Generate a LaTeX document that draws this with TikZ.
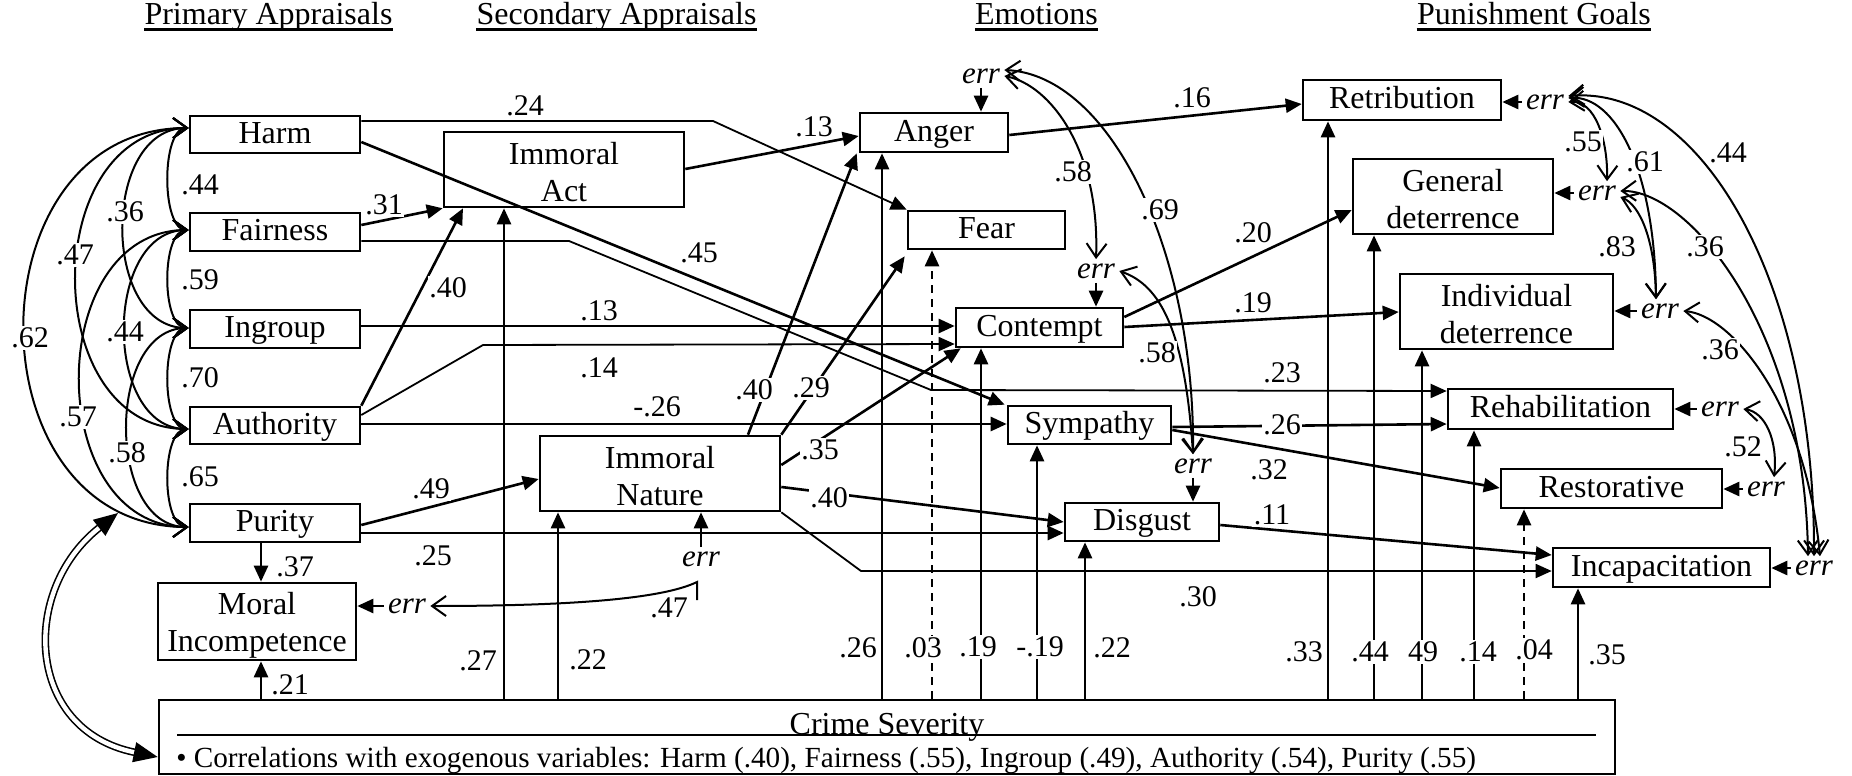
\documentclass[tikz,border=0pt]{standalone}
\usepackage{fontspec}
\setmainfont{Liberation Serif}
\usetikzlibrary{arrows.meta}
\begin{document}
\begin{tikzpicture}[x=0.5pt,y=-0.5pt,
  every node/.style={inner sep=0pt},
  box/.style={draw,line width=1.3pt,font=\fontsize{16}{18.5}\selectfont,text height=0.88em,text depth=0pt},
  box2/.style={draw,line width=1.3pt,font=\fontsize{16}{18.5}\selectfont,align=center},
  hdr/.style={font=\fontsize{16}{18}\selectfont,anchor=base},
  lab/.style={fill=white,inner sep=0.8pt,font=\fontsize{15}{18}\selectfont},
  err/.style={inner sep=2pt,font=\fontsize{15.5}{18}\selectfont\itshape},
  arr/.style={line width=1.3pt,-{Triangle[length=8pt,width=7pt]}},
  tarr/.style={line width=0.9pt,-{Triangle[length=8pt,width=7pt]}},
  cov/.style={line width=1pt,{Straight Barb[length=7pt,width=10pt]}-{Straight Barb[length=7pt,width=10pt]}},
  covs/.style={line width=1pt,{Straight Barb[length=7pt,width=10pt]}-},
]
\useasboundingbox (0,0) rectangle (1852,776);

% headers
\node[hdr] (h1) at (268.5,25) {Primary Appraisals};
\node[hdr] (h2) at (616.5,25) {Secondary Appraisals};
\node[hdr] (h3) at (1036.5,25) {Emotions};
\node[hdr] (h4) at (1534,25) {Punishment Goals};
\foreach \h in {h1,h2,h3,h4}{\draw[line width=1.5pt] (\h.west |- 0,29) -- (\h.east |- 0,29);}

% boxes
\node[box,minimum width=85pt,minimum height=18.5pt] (harm) at (275,134.5) {Harm};
\node[box,minimum width=85pt,minimum height=19pt] (fairness) at (275,232) {Fairness};
\node[box,minimum width=85pt,minimum height=19pt] (ingroup) at (275,329) {Ingroup};
\node[box,minimum width=85pt,minimum height=18.5pt] (authority) at (275,425.5) {Authority};
\node[box,minimum width=85pt,minimum height=19pt] (purity) at (275,523) {Purity};
\node[box2,minimum width=99pt,minimum height=38.5pt] (moral) at (257,621.5) {\rule{0pt}{15pt}Moral\\Incompetence};
\node[draw,line width=1.3pt,minimum width=728pt,minimum height=37pt] (crime) at (887,737) {};
\node[box2,minimum width=120pt,minimum height=37.5pt] (immact) at (564,169.5) {\rule{0pt}{13.5pt}Immoral\\Act};
\node[box2,minimum width=120pt,minimum height=37.5pt] (immnat) at (660,473.5) {\rule{0pt}{13.5pt}Immoral\\Nature};
\node[box,minimum width=74pt,minimum height=19.5pt] (anger) at (934,132.5) {Anger};
\node[box,minimum width=78.5pt,minimum height=19pt] (fear) at (986.5,230) {Fear};
\node[box,minimum width=83.5pt,minimum height=19.5pt] (contempt) at (1039.5,327.5) {Contempt};
\node[box,minimum width=81.5pt,minimum height=19pt] (sympathy) at (1089.5,425) {Sympathy};
\node[box,minimum width=77pt,minimum height=19pt] (disgust) at (1142,522) {Disgust};
\node[box,minimum width=99pt,minimum height=20pt] (retribution) at (1402,100) {Retribution};
\node[box2,minimum width=100pt,minimum height=37.5pt] (general) at (1453,196.5) {\rule{0pt}{13.5pt}General\\deterrence};
\node[box2,minimum width=106.5pt,minimum height=37.5pt] (individual) at (1506.5,311.5) {\rule{0pt}{13.5pt}Individual\\deterrence};
\node[box,minimum width=112.5pt,minimum height=20pt] (rehab) at (1560.5,409) {Rehabilitation};
\node[box,minimum width=110.5pt,minimum height=19.5pt] (restorative) at (1611.5,488.5) {Restorative};
\node[box,minimum width=108.5pt,minimum height=19.5pt] (incap) at (1661.5,567.5) {Incapacitation};

% crime severity texts
\node[font=\fontsize{16}{18}\selectfont,anchor=base] (crimet) at (887,734) {Crime Severity};
\draw[line width=1.3pt] (177,735) -- (1596,735);
\node[font=\fontsize{14.6}{18}\selectfont,anchor=base west] (corr) at (176,767) {\textbullet\ Correlations with exogenous variables: Harm (.40), Fairness (.55), Ingroup (.49), Authority (.54), Purity (.55)};

% err nodes
\node[err] (errA) at (981,76) {err};
\node[err] (errC) at (1096,271) {err};
\node[err] (errD) at (1193,466) {err};
\node[err] (errR) at (1545,102) {err};
\node[err] (errG) at (1597,193) {err};
\node[err] (errI) at (1660,311) {err};
\node[err] (errH) at (1720,409) {err};
\node[err] (errS) at (1766,489) {err};
\node[err] (errP) at (1814,568) {err};
\node[err] (errN) at (701,559) {err};
\node[err] (errM) at (407,606) {err};

% err arrows
\draw[arr] (errA.south) -- (errA.south |- anger.north);
\draw[arr] (errC.south) -- (errC.south |- contempt.north);
\draw[arr] (errD.south) -- (errD.south |- disgust.north);
\draw[arr] (errN.north) -- (errN.north |- immnat.south);
\draw[arr] (errM.west) -- (errM.west -| moral.east);
\draw[arr] (errR.west) -- (errR.west -| retribution.east);
\draw[arr] (errG.west) -- (errG.west -| general.east);
\draw[arr] (errI.west) -- (errI.west -| individual.east);
\draw[arr] (errH.west) -- (errH.west -| rehab.east);
\draw[arr] (errS.west) -- (errS.west -| restorative.east);
\draw[arr] (errP.west) -- (errP.west -| incap.east);

% left correlations
\draw[cov] (harm.west |- 0,128) .. controls (161,128) and (161,230) .. (fairness.west |- 0,230);
\draw[cov] (fairness.west |- 0,230) .. controls (161,230) and (161,328) .. (ingroup.west |- 0,328);
\draw[cov] (ingroup.west |- 0,328) .. controls (161,328) and (161,429) .. (authority.west |- 0,429);
\draw[cov] (authority.west |- 0,429) .. controls (161,429) and (161,527) .. (purity.west |- 0,527);
\draw[cov] (harm.west |- 0,128) .. controls (101,128) and (101,328) .. (ingroup.west |- 0,328);
\draw[cov] (harm.west |- 0,128) .. controls (38,128) and (38,429) .. (authority.west |- 0,429);
\draw[cov] (harm.west |- 0,128) .. controls (-31,128) and (-31,527) .. (purity.west |- 0,527);
\draw[cov] (fairness.west |- 0,230) .. controls (103,230) and (103,429) .. (authority.west |- 0,429);
\draw[cov] (fairness.west |- 0,230) .. controls (43,230) and (43,527) .. (purity.west |- 0,527);
\draw[cov] (ingroup.west |- 0,328) .. controls (106,328) and (106,527) .. (purity.west |- 0,527);

% crime <-> purity (double)
\coordinate (pc) at (118,513);
\draw[double,double distance=2.2pt,line width=0.8pt,{Triangle[length=12pt,width=10pt]}-{Triangle[length=12pt,width=10pt]}] (pc) .. controls (20,590) and (25,730) .. (crime.west |- 0,757);

% paths from primary appraisals
\draw[tarr] (harm.east |- 0,121) -- (713,121) -- (fear.north west);
\draw[arr] (harm.east |- 0,142) -- ([xshift=-1pt]sympathy.north west);
\draw[arr] (fairness.east |- 0,225) -- (immact.south west);
\draw[tarr] (fairness.east |- 0,241) -- (569,241) -- (931,390) -- (rehab.west |- 0,391);
\draw[arr] (ingroup.east |- 0,326) -- (contempt.west |- 0,326);
\draw[tarr] (authority.east |- 0,415) -- (483,345) -- (contempt.west |- 0,344);
\draw[arr] (authority.north east) -- (immact.south -| 463,0);
\draw[arr] (authority.east |- 0,424) -- (sympathy.west |- 0,424);
\draw[arr] (purity.east |- 0,525) -- (immnat.west |- 0,479);
\draw[arr] (purity.east |- 0,533) -- (disgust.west |- 0,533);
\draw[arr] (purity.south -| 261,0) -- (moral.north -| 261,0);

% secondary appraisals
\draw[arr] (immact.east |- 0,169) -- (anger.west |- 0,136);
\draw[arr] (immnat.north -| 748,0) -- ([xshift=-1pt]anger.south west);
\draw[arr] (immnat.north east) -- ([shift={(-1pt,-3pt)}]fear.south west);
\draw[arr] (immnat.east |- 0,465) -- ([xshift=3pt]contempt.south west);
\draw[arr] (immnat.east |- 0,487) -- (disgust.west |- 0,522);
\draw[tarr] (immnat.south east) -- (861,571) -- (incap.west |- 0,571);

% emotions -> goals
\draw[arr] (anger.east |- 0,135) -- (retribution.west |- 0,104);
\draw[arr] (contempt.east |- 0,317) -- (general.west |- 0,210);
\draw[arr] (contempt.east |- 0,327) -- (individual.west |- 0,312);
\draw[arr] (sympathy.east |- 0,427) -- (rehab.west |- 0,424);
\draw[arr] (sympathy.east |- 0,430) -- (restorative.west |- 0,488);
\draw[arr] (disgust.east |- 0,525) -- (incap.west |- 0,555);

% crime severity paths
\draw[arr] (crime.north -| 261,0) -- (moral.south -| 261,0);
\draw[arr] (crime.north -| 504,0) -- (immact.south -| 504,0);
\draw[arr] (crime.north -| 558,0) -- (immnat.south -| 558,0);
\draw[arr] (crime.north -| 882,0) -- (anger.south -| 882,0);
\draw[arr,dash pattern=on 4pt off 3pt] (crime.north -| 932,0) -- (fear.south -| 932,0);
\draw[arr] (crime.north -| 981,0) -- (contempt.south -| 981,0);
\draw[arr] (crime.north -| 1037,0) -- (sympathy.south -| 1037,0);
\draw[arr] (crime.north -| 1085,0) -- (disgust.south -| 1085,0);
\draw[arr] (crime.north -| 1328,0) -- (retribution.south -| 1328,0);
\draw[arr] (crime.north -| 1374,0) -- (general.south -| 1374,0);
\draw[arr] (crime.north -| 1422,0) -- (individual.south -| 1422,0);
\draw[arr] (crime.north -| 1474,0) -- (rehab.south -| 1474,0);
\draw[arr,dash pattern=on 4pt off 3pt] (crime.north -| 1524,0) -- (restorative.south -| 1524,0);
\draw[arr] (crime.north -| 1578,0) -- (incap.south -| 1578,0);

% error covariances
\draw[cov] (errA.east) .. controls (1050,85) and (1100,150) .. (errC.north);
\draw[cov] ([yshift=3pt]errA.east) .. controls (1110,75) and (1195,250) .. (errD.north);
\draw[cov] (errC.east) .. controls (1160,285) and (1185,330) .. (errD.north);
\draw[cov] (errR.east) .. controls (1595,100) and (1608,140) .. ([xshift=5pt]errG.north);
\draw[cov] ([yshift=2pt]errR.east) .. controls (1615,95) and (1655,170) .. ([xshift=-2pt]errI.north);
\draw[cov] ([yshift=-2pt]errG.east) .. controls (1640,205) and (1655,240) .. ([xshift=-2pt]errI.north);
\draw[cov] ([yshift=1pt]errG.east) .. controls (1690,190) and (1805,330) .. ([xshift=-3pt]errP.north);
\draw[cov] ([yshift=3pt]errR.east) .. controls (1700,85) and (1815,280) .. (errP.north);
\draw[cov] (errI.east) .. controls (1730,315) and (1805,400) .. ([xshift=3pt]errP.north);
\draw[cov] (errH.east) .. controls (1765,412) and (1778,440) .. ([xshift=4pt]errS.north);
\coordinate (n47) at (697,582);
\draw[covs] (errM.east) .. controls (560,606) and (660,600) .. (n47) -- (697,600);

% labels
\foreach \t/\x/\y in {.44/200/185,.59/200/280,.70/200/378,.65/200/477,.36/125/212,.47/75/255,.62/30/338,.44/125/332,.57/78/417,.58/127/453,
  .24/525/106,.31/384/205,.40/448/288,.45/699/253,.13/599/311,.14/599/368,-.26/657/407,.49/431/489,.25/433/556,.37/295/567,.21/290/685,
  .13/814/127,.40/754/390,.29/811/388,.35/820/450,.40/829/498,.30/1198/597,
  .16/1192/98,.20/1253/233,.19/1253/303,.23/1282/373,.26/1282/425,.32/1269/470,.11/1272/515,
  .27/478/661,.22/588/660,.26/858/648,.03/923/648,.19/978/647,-.19/1040/647,.22/1112/648,.33/1304/652,.44/1370/652,49/1423/652,.14/1478/652,.04/1534/650,.35/1607/655,
  .58/1073/172,.69/1160/210,.58/1157/353,.55/1583/142,.61/1645/162,.83/1617/247,.36/1705/247,.44/1728/153,.36/1720/350,.52/1743/447,.47/669/608}
  {\node[lab] at (\x,\y) {\t};}
\end{tikzpicture}
\end{document}
